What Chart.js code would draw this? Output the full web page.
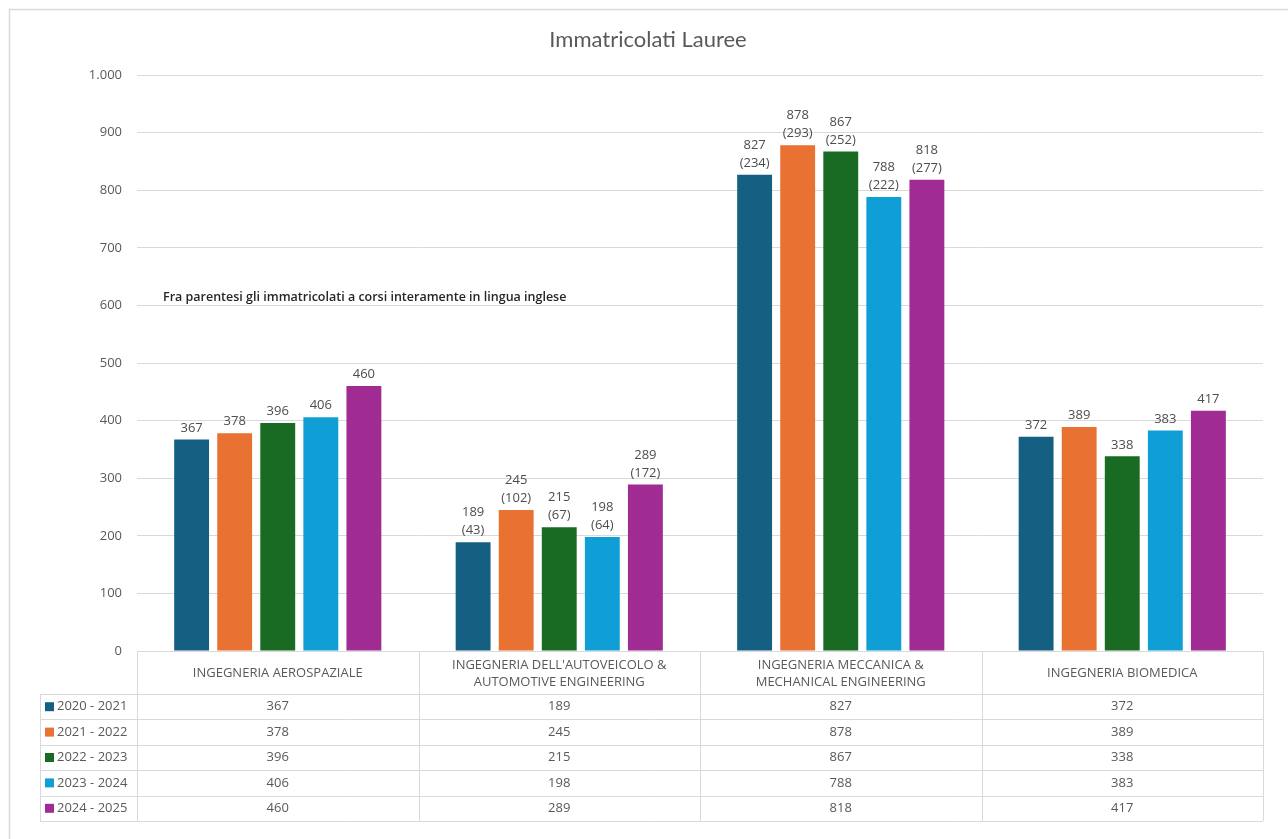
<!DOCTYPE html>
<html lang="it">
<head>
<meta charset="utf-8">
<title>Immatricolati Lauree</title>
<script src="https://cdn.jsdelivr.net/npm/chart.js@4.4.1/dist/chart.umd.min.js"></script>
<style>
  html, body { margin: 0; padding: 0; background: #ffffff; }
  #wrap { width: 1288px; height: 839px; position: relative; }
</style>
</head>
<body>
<div id="wrap"><canvas id="chart"></canvas></div>
<script>
// --- DATA ---
const categories = [
  ['INGEGNERIA AEROSPAZIALE'],
  ["INGEGNERIA DELL'AUTOVEICOLO &", 'AUTOMOTIVE ENGINEERING'],
  ['INGEGNERIA MECCANICA &', 'MECHANICAL ENGINEERING'],
  ['INGEGNERIA BIOMEDICA']
];
const seriesNames = ['2020 - 2021', '2021 - 2022', '2022 - 2023', '2023 - 2024', '2024 - 2025'];
const seriesColors = ['#156082', '#E97132', '#196B24', '#0F9ED5', '#A02B93'];

// totali immatricolati
const v2020 = [367, 189, 827, 372];
const v2021 = [378, 245, 878, 389];
const v2022 = [396, 215, 867, 338];
const v2023 = [406, 198, 788, 383];
const v2024 = [460, 289, 818, 417];

// di cui in corsi interamente in inglese (tra parentesi)
const en2020 = [null, 43, 234, null];
const en2021 = [null, 102, 293, null];
const en2022 = [null, 67, 252, null];
const en2023 = [null, 64, 222, null];
const en2024 = [null, 172, 277, null];

const totals = [v2020, v2021, v2022, v2023, v2024];
const english = [en2020, en2021, en2022, en2023, en2024];

const titleText = 'Immatricolati Lauree';
const noteText = 'Fra parentesi gli immatricolati a corsi interamente in lingua inglese';

// --- HELPERS ---
const GRID = '#d9d9d9';
const TEXT = '#595959';
const FONT = "'Open Sans', 'DejaVu Sans', sans-serif";

function fmtIt(v) {
  return String(v).replace(/\B(?=(\d{3})+(?!\d))/g, '.');
}

// frame, white background and title
const framePlugin = {
  id: 'frame',
  beforeDraw(chart) {
    const ctx = chart.ctx;
    ctx.save();
    ctx.fillStyle = '#ffffff';
    ctx.fillRect(0, 0, chart.width, chart.height);
    ctx.strokeStyle = GRID;
    ctx.lineWidth = 1.5;
    ctx.strokeRect(9.5, 9.5, chart.width + 20, chart.height + 20);

    ctx.fillStyle = TEXT;
    ctx.font = "22px Lato, 'Open Sans', sans-serif";
    ctx.textAlign = 'center';
    ctx.textBaseline = 'middle';
    ctx.fillText(titleText, 648, 40);
    ctx.restore();
  }
};

// value labels above bars, with english count in brackets
const labelsPlugin = {
  id: 'barLabels',
  afterDatasetsDraw(chart) {
    const ctx = chart.ctx;
    ctx.save();
    ctx.font = '13px ' + FONT;
    ctx.fillStyle = '#4d4d4d';
    ctx.textAlign = 'center';
    ctx.textBaseline = 'bottom';
    chart.data.datasets.forEach((ds, i) => {
      const meta = chart.getDatasetMeta(i);
      meta.data.forEach((bar, j) => {
        const en = english[i][j];
        let y = bar.y - 5;
        if (en != null) {
          ctx.fillText('(' + en + ')', bar.x, y);
          y -= 18;
        }
        ctx.fillText(String(ds.data[j]), bar.x, y);
      });
    });

    // note
    ctx.font = "600 12.5px " + FONT;
    ctx.fillStyle = '#262626';
    ctx.textAlign = 'left';
    ctx.textBaseline = 'middle';
    ctx.fillText(noteText, chart.chartArea.left + 26, chart.scales.y.getPixelForValue(614));
    ctx.restore();
  }
};

// data table under the plot
const tablePlugin = {
  id: 'dataTable',
  afterDraw(chart) {
    const ctx = chart.ctx;
    const area = chart.chartArea;
    const n = categories.length;
    const colW = (area.right - area.left) / n;
    const top = area.bottom;
    const headH = 43;
    const rowH = 25.4;
    const legendLeft = 40;
    const bottom = top + headH + rowH * totals.length;

    ctx.save();
    ctx.strokeStyle = GRID;
    ctx.lineWidth = 1;

    // horizontal lines
    ctx.beginPath();
    ctx.moveTo(area.left, top + 0.5);
    ctx.lineTo(area.right, top + 0.5);
    for (let r = 0; r <= totals.length; r++) {
      const y = Math.round(top + headH + r * rowH) + 0.5;
      ctx.moveTo(legendLeft, y);
      ctx.lineTo(area.right, y);
    }
    // vertical lines
    ctx.moveTo(legendLeft + 0.5, top + headH);
    ctx.lineTo(legendLeft + 0.5, bottom);
    for (let c = 0; c <= n; c++) {
      const x = Math.round(area.left + c * colW) + 0.5;
      ctx.moveTo(x, top);
      ctx.lineTo(x, bottom);
    }
    ctx.stroke();

    // header
    ctx.fillStyle = TEXT;
    ctx.font = '13px ' + FONT;
    ctx.textAlign = 'center';
    ctx.textBaseline = 'middle';
    categories.forEach((lines, c) => {
      const cx = area.left + (c + 0.5) * colW;
      const cy = top + headH / 2 + 1;
      lines.forEach((line, k) => {
        ctx.fillText(line, cx, cy + (k - (lines.length - 1) / 2) * 17);
      });
    });

    // rows
    totals.forEach((vals, r) => {
      const cy = top + headH + (r + 0.5) * rowH;
      ctx.fillStyle = seriesColors[r];
      ctx.fillRect(legendLeft + 5, cy - 4.5, 9, 9);
      ctx.fillStyle = TEXT;
      ctx.textAlign = 'left';
      ctx.fillText(seriesNames[r], legendLeft + 17, cy);
      ctx.textAlign = 'center';
      vals.forEach((v, c) => {
        ctx.fillText(fmtIt(v), area.left + (c + 0.5) * colW, cy);
      });
    });
    ctx.restore();
  }
};

// --- CHART ---
Chart.defaults.font.family = FONT;
Chart.defaults.color = TEXT;

const ctx = document.getElementById('chart').getContext('2d');
new Chart(ctx, {
  type: 'bar',
  data: {
    labels: categories,
    datasets: totals.map((vals, i) => ({
      label: seriesNames[i],
      data: vals,
      backgroundColor: seriesColors[i],
      borderWidth: 0,
      categoryPercentage: 0.765,
      barPercentage: 0.81
    }))
  },
  options: {
    responsive: true,
    maintainAspectRatio: false,
    animation: false,
    devicePixelRatio: 1,
    layout: { padding: { left: 10, right: 25, top: 75, bottom: 180 } },
    plugins: {
      legend: { display: false },
      tooltip: { enabled: false },
      title: { display: false }
    },
    scales: {
      x: {
        grid: { display: false },
        border: { display: false },
        ticks: { display: false }
      },
      y: {
        min: 0,
        max: 1000,
        ticks: {
          stepSize: 100,
          padding: 15,
          color: TEXT,
          font: { size: 13 },
          callback: v => fmtIt(v)
        },
        grid: { color: GRID, drawTicks: false },
        border: { display: false },
        afterFit(scale) { scale.width = 127; }
      }
    }
  },
  plugins: [framePlugin, labelsPlugin, tablePlugin]
});
</script>
</body>
</html>
